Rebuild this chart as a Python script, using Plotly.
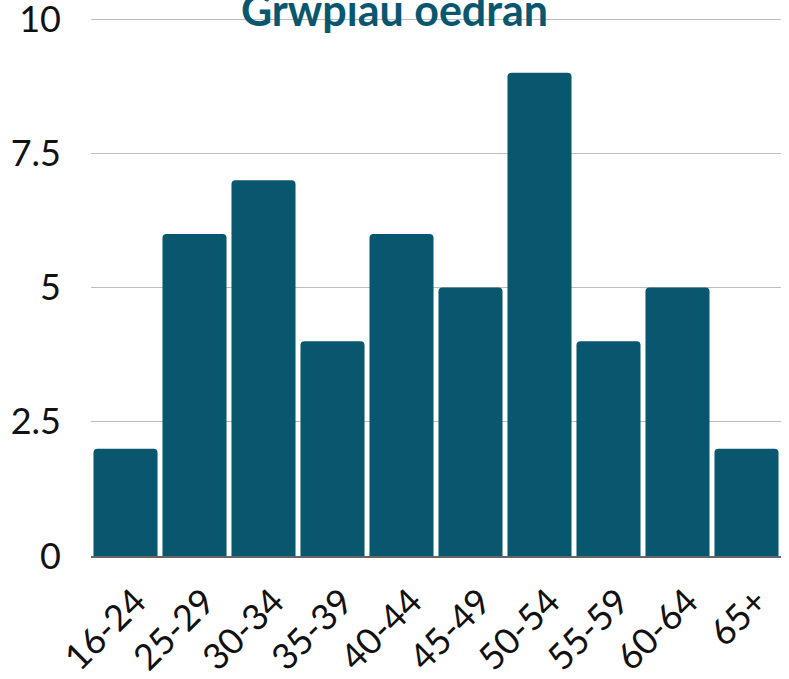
import plotly.graph_objects as go

categories = ["16-24", "25-29", "30-34", "35-39", "40-44", "45-49", "50-54", "55-59", "60-64", "65+"]
values = [2, 6, 7, 4, 6, 5, 9, 4, 5, 2]
y_ticks = [0, 2.5, 5, 7.5, 10]
y_tick_labels = ["0", "2.5", "5", "7.5", "10"]
title_text = "Grwpiau oedran"

BAR = "#08576F"

fig = go.Figure(go.Bar(x=categories, y=values, marker=dict(color=BAR, line=dict(width=0))))

fig.update_layout(
    width=789, height=679,
    margin=dict(l=91, r=8, t=17, b=123, autoexpand=False),
    paper_bgcolor="white", plot_bgcolor="white",
    font=dict(family="Lato", color="#111111"),
    bargap=0.072,
    barcornerradius=4,
    showlegend=False,
    title=dict(text="<b>" + title_text + "</b>", x=0.5, xanchor="center",
               xref="container", yref="container", y=1 - 10.5 / 679, yanchor="middle",
               font=dict(family="Lato", size=43, color=BAR)),
)
fig.update_yaxes(range=[0, 10.04], tickvals=y_ticks, ticktext=y_tick_labels, automargin=False,
                 showgrid=True, gridcolor="#BDBDBD", gridwidth=1.2, zeroline=False,
                 showline=False, ticks="", tickfont=dict(family="Lato", size=36, color="#111111"),
                 ticklabelstandoff=29, ticklabeloverflow="allow")
fig.update_xaxes(tickangle=-45, showline=True, linecolor="#666666", linewidth=2, automargin=False,
                 ticks="", tickfont=dict(family="Lato", size=36, color="#111111"),
                 ticklabelstandoff=8, ticklabelshift=10, ticklabeloverflow="allow")

fig.write_html("out.html", config={"displayModeBar": False},
               post_script="document.body.style.margin='0';document.body.style.overflow='hidden';")
